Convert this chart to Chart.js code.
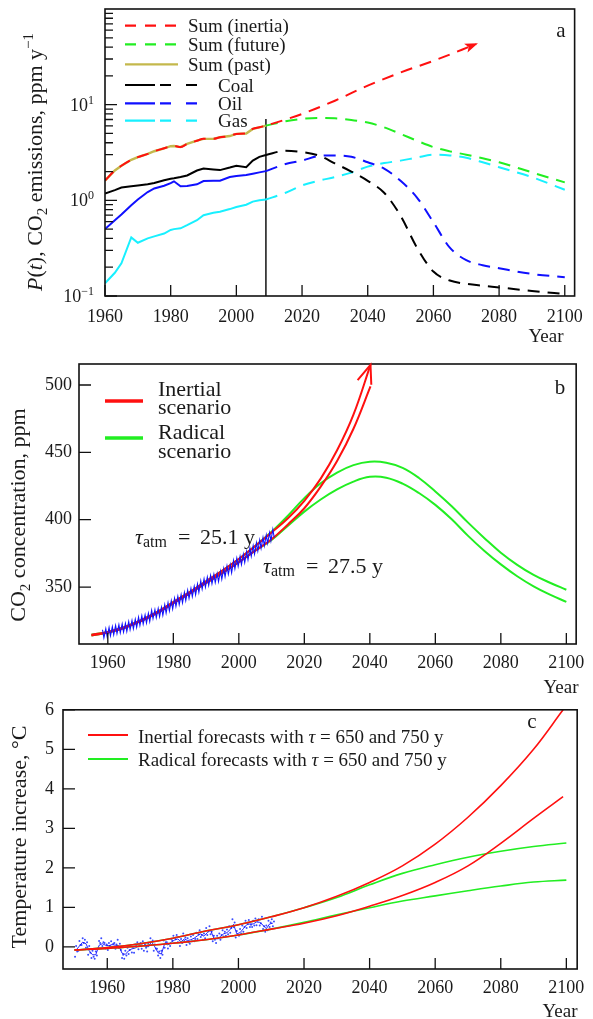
<!DOCTYPE html>
<html>
<head>
<meta charset="utf-8">
<script src="https://cdn.jsdelivr.net/npm/chart.js@4.4.1/dist/chart.umd.min.js"></script>
<style>
body { margin: 0; background: #fff; width: 593px; height: 1019px; position: relative; overflow: hidden; }
canvas { position: absolute; left: 0; }
</style>
</head>
<body>
<canvas id="graficoA" width="593" height="350" style="top:0px"></canvas>
<canvas id="graficoB" width="593" height="360" style="top:340px"></canvas>
<canvas id="graficoC" width="593" height="329" style="top:690px"></canvas>
<script>
var xTicks = [1960, 1980, 2000, 2020, 2040, 2060, 2080, 2100]

// panel a - emissions, ppm per year
var pastYears = [1960, 1963, 1965, 1968, 1970, 1973, 1975, 1978, 1980, 1981, 1983, 1985, 1988, 1990, 1993, 1995, 1998, 2000, 2003, 2005, 2007, 2009]
var sumPast = [1.61, 2.05, 2.3, 2.65, 2.83, 3.06, 3.26, 3.5, 3.68, 3.7, 3.6, 3.89, 4.2, 4.39, 4.39, 4.56, 4.7, 4.95, 5.0, 5.58, 5.8, 6.04]
var coalPast = [1.18, 1.28, 1.36, 1.4, 1.43, 1.47, 1.52, 1.62, 1.68, 1.7, 1.75, 1.82, 2.05, 2.15, 2.1, 2.07, 2.2, 2.3, 2.22, 2.6, 2.85, 2.98]
var oilPast = [0.5, 0.62, 0.71, 0.89, 1.02, 1.22, 1.33, 1.42, 1.51, 1.58, 1.4, 1.41, 1.47, 1.59, 1.6, 1.6, 1.75, 1.8, 1.84, 1.9, 1.96, 2.02]
var gasPast = [0.136, 0.175, 0.22, 0.41, 0.36, 0.4, 0.42, 0.45, 0.49, 0.5, 0.51, 0.55, 0.62, 0.7, 0.74, 0.76, 0.81, 0.85, 0.9, 0.97, 1.0, 1.02]

var futureYears = [2009, 2015, 2020, 2025, 2030, 2035, 2040, 2045, 2050, 2055, 2060, 2065, 2070, 2075, 2080, 2090, 2100]
var sumFuture = [6.04, 6.7, 7.1, 7.25, 7.2, 6.9, 6.5, 5.8, 4.95, 4.2, 3.6, 3.25, 3.0, 2.75, 2.5, 1.96, 1.54]
var coalFuture = [2.98, 3.3, 3.2, 2.95, 2.43, 2.0, 1.6, 1.2, 0.69, 0.32, 0.18, 0.145, 0.134, 0.128, 0.123, 0.113, 0.105]
var oilFuture = [2.02, 2.4, 2.6, 2.9, 2.95, 2.85, 2.5, 2.15, 1.6, 1.07, 0.59, 0.32, 0.237, 0.21, 0.195, 0.17, 0.157]
var gasFuture = [1.02, 1.2, 1.43, 1.6, 1.75, 1.95, 2.25, 2.45, 2.6, 2.8, 3.0, 2.95, 2.78, 2.5, 2.22, 1.75, 1.29]

var inertiaYears = [2009, 2020, 2030, 2040, 2050, 2060, 2073]
var sumInertia = [6.04, 8.0, 11.0, 15.8, 21.7, 28.7, 43]

var logMajor = [0.1, 1, 10]
var logExp = ['−1', '0', '1']
var logMinor = [0.2, 0.3, 0.4, 0.5, 0.6, 0.7, 0.8, 0.9, 2, 3, 4, 5, 6, 7, 8, 9, 20, 30, 40, 50, 60, 70, 80, 90]
var legendA = ['Sum (inertia)', 'Sum (future)', 'Sum (past)', 'Coal', 'Oil', 'Gas']

// panel b - CO2 concentration
var concYears = [1955, 1960, 1965, 1970, 1975, 1980, 1985, 1990, 1995, 2000, 2005, 2010, 2015, 2020, 2025, 2030, 2035, 2040, 2045, 2050, 2055, 2060, 2065, 2070, 2075, 2080, 2085, 2090, 2095, 2100]
var radicalHigh = [314.5, 316.7, 320.2, 325.2, 331.3, 338.8, 346.3, 354.3, 362.3, 370.8, 380.5, 391, 403, 416, 427, 435, 440.5, 443, 442.3, 438.5, 431, 421, 410, 397.8, 386.3, 375.5, 366.5, 359, 353.2, 348]
var radicalLow = [314, 316.2, 319.6, 324.6, 330.6, 338, 345.3, 353, 360.5, 368.5, 377, 385, 395.5, 406, 415, 422.5, 428.3, 431.8, 431.2, 426.8, 419.8, 411, 400.3, 388, 376.8, 366.8, 358, 350.5, 344.3, 339]
var inertYears = [1955, 1960, 1965, 1970, 1975, 1980, 1985, 1990, 1995, 2000, 2005, 2010, 2015, 2020, 2025, 2030, 2035, 2040.2]
var inertHigh = [314.5, 316.7, 320.2, 325.2, 331.3, 338.8, 346.3, 354.3, 362.3, 370.8, 380.5, 390.5, 401, 414, 430.5, 451.5, 478, 515]
var inertLow = [314, 316.2, 319.6, 324.6, 330.6, 338, 345.3, 353, 360.5, 368.5, 377, 385.5, 396.5, 408.5, 424.5, 443.5, 467.5, 499]

var mloFirstYear = 1958
var mloPeak = [318.3, 319.0, 319.9, 320.6, 321.5, 322.0, 322.6, 323.0, 324.4, 325.2,
  326.0, 327.6, 328.7, 329.3, 330.5, 332.7, 333.2, 334.1, 335.0, 336.8,
  338.4, 339.8, 341.7, 343.1, 344.4, 346.0, 347.6, 349.0, 350.4, 352.2,
  354.6, 356.1, 357.4, 358.6, 359.4, 360.1, 361.8, 363.8, 365.6, 366.7,
  369.7, 371.4, 372.7, 374.3, 376.4, 378.9, 380.7, 382.8, 384.9, 386.8,
  388.6, 390.4, 392.9]
var mloTrough = [312.3, 313.0, 313.8, 314.6, 315.4, 316.0, 316.5, 317.0, 318.3, 319.1,
  320.0, 321.5, 322.6, 323.3, 324.4, 326.6, 327.2, 328.0, 329.0, 330.7,
  332.3, 333.7, 335.6, 337.0, 338.3, 340.0, 341.5, 342.9, 344.3, 346.1,
  348.5, 350.0, 351.3, 352.5, 353.3, 354.0, 355.7, 357.7, 359.5, 360.6,
  363.6, 365.3, 366.6, 368.2, 370.3, 372.8, 374.6, 376.7, 378.8, 380.7,
  382.5, 384.3, 386.8]

// panel c - temperature
var modelYears = [1950, 1960, 1970, 1980, 1990, 2000, 2010, 2020, 2030, 2040, 2050, 2060, 2070, 2080, 2090, 2100]
var inertForecastYears = [1950, 1960, 1970, 1980, 1990, 2000, 2010, 2020, 2030, 2040, 2050, 2060, 2070, 2080, 2090, 2099]
var inertTempHigh = [-0.08, -0.02, 0.08, 0.22, 0.4, 0.56, 0.76, 0.99, 1.28, 1.63, 2.05, 2.6, 3.28, 4.08, 5.0, 6.0]
var inertTempLow = [-0.08, -0.04, 0.02, 0.09, 0.18, 0.3, 0.45, 0.6, 0.79, 1.03, 1.3, 1.63, 2.05, 2.62, 3.25, 3.8]
var radTempHigh = [-0.08, -0.02, 0.08, 0.22, 0.4, 0.56, 0.76, 0.99, 1.25, 1.57, 1.86, 2.08, 2.27, 2.42, 2.54, 2.63]
var radTempLow = [-0.08, -0.04, 0.02, 0.09, 0.18, 0.3, 0.45, 0.62, 0.81, 0.99, 1.16, 1.29, 1.42, 1.54, 1.64, 1.69]

var obsFirstYear = 1950
var obsTemp = [-0.08, 0.02, 0.12, 0.08, -0.1, -0.2, -0.2, 0.04, 0.08, 0.04,
  0.03, 0.06, 0.04, 0.03, -0.16, -0.19, -0.1, -0.05, -0.03, 0.02,
  0.05, 0.02, 0.0, 0.13, 0.0, -0.15, -0.18, 0.08, 0.05, 0.12,
  0.17, 0.2, 0.13, 0.2, 0.16, 0.18, 0.22, 0.28, 0.33, 0.27,
  0.36, 0.42, 0.22, 0.2, 0.26, 0.33, 0.36, 0.44, 0.57, 0.33,
  0.36, 0.46, 0.56, 0.58, 0.58, 0.63, 0.62, 0.55, 0.46, 0.58,
  0.6]
// three readings per year
var obsScatter = [-0.25, 0.02, -0.12, -0.1, 0.15, 0.05, 0.05, 0.22, 0.1, 0.18, -0.02, 0.12, -0.2, 0.02, -0.15,
  -0.28, -0.1, -0.25, -0.3, -0.12, -0.22, -0.05, 0.15, 0.1, 0.22, 0.02, 0.12, 0.1, -0.04, 0.06,
  -0.08, 0.1, 0.02, 0.14, 0.0, 0.08, 0.1, -0.05, 0.06, 0.18, -0.02, 0.08, -0.08, -0.28, -0.2,
  -0.3, -0.1, -0.22, -0.02, -0.18, -0.08, 0.05, -0.14, 0.0, -0.15, 0.06, 0.02, 0.12, -0.06, 0.08,
  0.1, -0.05, 0.14, -0.1, 0.06, -0.02, -0.12, 0.08, 0.04, 0.22, 0.05, 0.16, -0.1, 0.06, -0.04,
  -0.05, -0.22, -0.12, -0.28, -0.1, -0.2, 0.16, -0.02, 0.12, 0.12, -0.04, 0.08, 0.02, 0.2, 0.16,
  0.28, 0.1, 0.2, 0.3, 0.12, 0.25, 0.02, 0.2, 0.1, 0.34, 0.15, 0.24, 0.05, 0.22, 0.12,
  0.08, 0.26, 0.14, 0.3, 0.14, 0.2, 0.36, 0.2, 0.32, 0.42, 0.25, 0.3, 0.18, 0.34, 0.22,
  0.48, 0.3, 0.4, 0.52, 0.32, 0.38, 0.14, 0.28, 0.18, 0.1, 0.28, 0.22, 0.34, 0.18, 0.3,
  0.42, 0.26, 0.38, 0.28, 0.44, 0.32, 0.52, 0.36, 0.48, 0.7, 0.5, 0.62, 0.24, 0.4, 0.3,
  0.28, 0.45, 0.34, 0.54, 0.38, 0.5, 0.66, 0.48, 0.6, 0.68, 0.5, 0.56, 0.5, 0.66, 0.54,
  0.72, 0.55, 0.66, 0.7, 0.54, 0.6, 0.76, 0.45, 0.52, 0.38, 0.54, 0.42, 0.66, 0.5, 0.62,
  0.7, 0.52, 0.64]
var tempTicks = [0, 1, 2, 3, 4, 5, 6]
var concTicks = [350, 400, 450, 500]

Chart.defaults.font.family = '"Liberation Serif", "Times New Roman", serif'
Chart.defaults.font.size = 18
Chart.defaults.color = '#1a1a1a'
Chart.defaults.animation = false
Chart.defaults.elements.point.radius = 0
Chart.defaults.plugins.legend.display = false
Chart.defaults.plugins.tooltip.enabled = false

function serif(size, italic) {
	return (italic ? 'italic ' : '') + size + 'px "Liberation Serif", serif'
}

function pts(xs, ys) {
	return xs.map(function (x, i) { return { x: x, y: ys[i] } })
}

// smooth: 'mono' = monotone cubic, 'bez' = bezier tension, otherwise straight
function line(data, color, width, dash, order, smooth) {
	return {
		data: data,
		borderColor: color,
		borderWidth: width,
		borderDash: dash || [],
		fill: false,
		order: order,
		tension: smooth === 'bez' ? 0.4 : 0,
		cubicInterpolationMode: smooth === 'mono' ? 'monotone' : 'default',
	}
}

// text made of pieces: [text, font, dy]
function richText(ctx, x, y, parts, rot, align) {
	ctx.save()
	ctx.translate(x, y)
	if (rot) ctx.rotate(rot)
	var w = 0
	parts.forEach(function (p) { ctx.font = p[1]; w += ctx.measureText(p[0]).width })
	var cx = 0
	if (align === 'center') cx = -w / 2
	if (align === 'right') cx = -w
	ctx.textAlign = 'left'
	ctx.textBaseline = 'alphabetic'
	parts.forEach(function (p) {
		ctx.font = p[1]
		ctx.fillText(p[0], cx, p[2] || 0)
		cx += ctx.measureText(p[0]).width
	})
	ctx.restore()
}

function xScale(min, max, height, pad) {
	return {
		type: 'linear',
		min: min,
		max: max,
		grid: { display: false, drawTicks: false },
		border: { display: false },
		ticks: { padding: pad, maxRotation: 0, autoSkip: false, callback: function (v) { return String(v) } },
		afterBuildTicks: function (s) { s.ticks = xTicks.map(function (v) { return { value: v } }) },
		afterFit: function (s) { s.height = height },
	}
}

function makeDeco(yMajor, yMinor, extra) {
	return {
		id: 'deco',
		afterDraw: function (chart) {
			var ctx = chart.ctx, a = chart.chartArea
			var sx = chart.scales.x, sy = chart.scales.y
			ctx.save()
			ctx.strokeStyle = '#111'
			ctx.lineWidth = 1.6
			ctx.strokeRect(a.left, a.top, a.right - a.left, a.bottom - a.top)
			ctx.lineWidth = 1.3
			ctx.beginPath()
			xTicks.forEach(function (v) {
				var px = sx.getPixelForValue(v)
				ctx.moveTo(px, a.bottom)
				ctx.lineTo(px, a.bottom - 11)
			})
			yMajor.forEach(function (v) {
				var py = sy.getPixelForValue(v)
				ctx.moveTo(a.left, py)
				ctx.lineTo(a.left + 12, py)
			})
			yMinor.forEach(function (v) {
				var py = sy.getPixelForValue(v)
				ctx.moveTo(a.left, py)
				ctx.lineTo(a.left + 8, py)
			})
			ctx.stroke()
			ctx.fillStyle = '#1a1a1a'
			extra(chart, ctx)
			ctx.restore()
		}
	}
}

var red = '#ff1010', green = '#22ee22', olive = '#c4b84c', blue = '#1010ff', cyan = '#18f0ff'

// ---------- panel a ----------
var inertiaData = pts(pastYears, sumPast).concat(pts(inertiaYears, sumInertia).slice(1))

var decoA = makeDeco(logMajor, logMinor, function (chart, ctx) {
	var sy = chart.scales.y
	logMajor.forEach(function (v, i) {
		var py = sy.getPixelForValue(v)
		richText(ctx, 94, py + 6, [['10', serif(18)], [logExp[i], serif(12), -7]], 0, 'right')
	})
	richText(ctx, 41.5, 162, [['P', serif(22, true)], ['(', serif(22)], ['t', serif(22, true)], ['), CO', serif(22)],
		['2', serif(15), 5], [' emissions, ppm y', serif(22)], ['−1', serif(15), -9]], -Math.PI / 2, 'center')
	ctx.font = serif(19)
	ctx.textAlign = 'center'
	ctx.fillText('Year', 546, 342)
	ctx.font = serif(21)
	ctx.fillText('a', 561, 37)

	// arrow at the end of the inertia sum
	var p = chart.getDatasetMeta(0).data
	var t = p[p.length - 1], s = p[p.length - 2]
	var ang = Math.atan2(t.y - s.y, t.x - s.x)
	ctx.fillStyle = red
	ctx.beginPath()
	ctx.moveTo(t.x + 2 * Math.cos(ang), t.y + 2 * Math.sin(ang))
	ctx.lineTo(t.x - 12 * Math.cos(ang - 0.4), t.y - 12 * Math.sin(ang - 0.4))
	ctx.lineTo(t.x - 8 * Math.cos(ang), t.y - 8 * Math.sin(ang))
	ctx.lineTo(t.x - 12 * Math.cos(ang + 0.4), t.y - 12 * Math.sin(ang + 0.4))
	ctx.closePath()
	ctx.fill()

	// legend
	var rows = [25.7, 44.3, 64.3, 85, 103.3, 120.7]
	var colors = [red, green, olive, '#000', blue, cyan]
	ctx.lineWidth = 2.2
	rows.forEach(function (y, i) {
		ctx.strokeStyle = colors[i]
		ctx.beginPath()
		if (i < 3) {
			ctx.setLineDash(i === 2 ? [] : [11, 9])
			ctx.moveTo(125, y)
			ctx.lineTo(178, y)
		} else {
			ctx.setLineDash([])
			ctx.moveTo(125, y); ctx.lineTo(155, y)
			ctx.moveTo(160, y); ctx.lineTo(171, y)
			ctx.moveTo(186, y); ctx.lineTo(197, y)
		}
		ctx.stroke()
		ctx.setLineDash([])
		ctx.fillStyle = '#1a1a1a'
		ctx.font = serif(19)
		ctx.textAlign = 'left'
		ctx.fillText(legendA[i], i < 3 ? 188 : 218, y + 6.5)
	})
})

new Chart(document.getElementById('graficoA').getContext('2d'), {
	type: 'line',
	data: {
		datasets: [
			line(inertiaData, red, 2, [12, 8], 0, 'mono'),
			line(pts(futureYears, sumFuture), green, 2, [12, 8], 1, 'mono'),
			line(pts(futureYears, coalFuture), '#000', 2, [12, 8], 2, 'mono'),
			line(pts(futureYears, oilFuture), blue, 2, [12, 8], 2, 'mono'),
			line(pts(futureYears, gasFuture), cyan, 2, [12, 8], 2, 'mono'),
			line(pts(pastYears, coalPast), '#000', 2, [], 3),
			line(pts(pastYears, oilPast), blue, 2, [], 3),
			line(pts(pastYears, gasPast), cyan, 2, [], 3),
			line(pts(pastYears, sumPast), olive, 2.4, [], 4),
			line([{ x: 2009, y: 0.1 }, { x: 2009, y: 7.1 }], '#000', 1.4, [], 5),
		]
	},
	options: {
		responsive: false,
		layout: { padding: { left: 0, top: 9, right: 11, bottom: 0 } },
		scales: {
			x: xScale(1960, 2103, 54, 10),
			y: {
				type: 'logarithmic',
				min: 0.1,
				max: 100,
				grid: { display: false, drawTicks: false },
				border: { display: false },
				ticks: { display: false },
				afterFit: function (s) { s.width = 105 },
			},
		},
	},
	plugins: [decoA],
})

// ---------- panel b ----------
var mloData = []
mloPeak.forEach(function (v, i) {
	mloData.push({ x: mloFirstYear + i + 0.38, y: v })
	mloData.push({ x: mloFirstYear + i + 0.8, y: mloTrough[i] })
})

var decoB = makeDeco(concTicks, [], function (chart, ctx) {
	var off = 340
	richText(ctx, 25, 515 - off, [['CO', serif(22)], ['2', serif(15), 5], [' concentration, ppm', serif(22)]], -Math.PI / 2, 'center')
	ctx.font = serif(19)
	ctx.textAlign = 'center'
	ctx.fillText('Year', 561, 693 - off)
	ctx.font = serif(21)
	ctx.fillText('b', 560, 394 - off)

	// tau annotations
	var notes = [[135, 544, '25.1 y'], [263, 573, '27.5 y']]
	notes.forEach(function (n) {
		ctx.textAlign = 'left'
		ctx.font = serif(22, true)
		ctx.fillText('τ', n[0], n[1] - off)
		ctx.font = serif(16)
		ctx.fillText('atm', n[0] + 8, n[1] + 3 - off)
		ctx.font = serif(22)
		ctx.fillText('=', n[0] + 43, n[1] - off)
		ctx.fillText(n[2], n[0] + 65, n[1] - off)
	})

	// legend
	ctx.lineWidth = 3.5
	ctx.strokeStyle = red
	ctx.beginPath(); ctx.moveTo(105, 401 - off); ctx.lineTo(143, 401 - off); ctx.stroke()
	ctx.strokeStyle = green
	ctx.beginPath(); ctx.moveTo(105, 438 - off); ctx.lineTo(143, 438 - off); ctx.stroke()
	ctx.font = serif(22)
	ctx.fillText('Inertial', 158, 396 - off)
	ctx.fillText('scenario', 158, 414 - off)
	ctx.fillText('Radical', 158, 439 - off)
	ctx.fillText('scenario', 158, 458 - off)

	// open arrow on the inertial curves
	var p = chart.getDatasetMeta(1).data
	var t = p[p.length - 1], s = p[p.length - 2]
	var ang = Math.atan2(t.y - s.y, t.x - s.x)
	ctx.strokeStyle = red
	ctx.lineWidth = 2
	ctx.beginPath()
	ctx.moveTo(t.x - 20 * Math.cos(ang - 0.37), t.y - 20 * Math.sin(ang - 0.37))
	ctx.lineTo(t.x, t.y)
	ctx.lineTo(t.x - 20 * Math.cos(ang + 0.37), t.y - 20 * Math.sin(ang + 0.37))
	ctx.stroke()
})

new Chart(document.getElementById('graficoB').getContext('2d'), {
	type: 'line',
	data: {
		datasets: [
			line(mloData, blue, 1.1, [], 0),
			line(pts(inertYears, inertHigh), red, 2, [], 1, 'bez'),
			line(pts(inertYears, inertLow), red, 2, [], 1, 'bez'),
			line(pts(concYears, radicalHigh), green, 2, [], 2, 'bez'),
			line(pts(concYears, radicalLow), green, 2, [], 2, 'bez'),
		]
	},
	options: {
		responsive: false,
		layout: { padding: { left: 0, top: 24, right: 8, bottom: 0 } },
		scales: {
			x: xScale(1951.2, 2103, 56, 8.5),
			y: {
				type: 'linear',
				min: 307.7,
				max: 515.6,
				grid: { display: false, drawTicks: false },
				border: { display: false },
				ticks: { padding: 7 },
				afterBuildTicks: function (s) { s.ticks = concTicks.map(function (v) { return { value: v } }) },
				afterFit: function (s) { s.width = 79 },
			},
		},
	},
	plugins: [decoB],
})

// ---------- panel c ----------
var scatterData = obsScatter.map(function (v, i) {
	return { x: obsFirstYear + Math.floor(i / 3) + (i % 3) / 3 + 0.17, y: v }
})
var obsData = obsTemp.map(function (v, i) { return { x: obsFirstYear + i + 0.5, y: v } })

var decoC = makeDeco(tempTicks, [], function (chart, ctx) {
	var off = 690
	richText(ctx, 26, 837 - off, [['Temperature increase, °C', serif(22)]], -Math.PI / 2, 'center')
	ctx.font = serif(19)
	ctx.textAlign = 'center'
	ctx.fillText('Year', 560, 1017 - off)
	ctx.font = serif(21)
	ctx.fillText('c', 532, 728 - off)

	ctx.lineWidth = 2
	ctx.strokeStyle = red
	ctx.beginPath(); ctx.moveTo(88, 735 - off); ctx.lineTo(128, 735 - off); ctx.stroke()
	ctx.strokeStyle = green
	ctx.beginPath(); ctx.moveTo(88, 759 - off); ctx.lineTo(128, 759 - off); ctx.stroke()
	richText(ctx, 138, 742.5 - off, [['Inertial forecasts with ', serif(19)], ['τ', serif(19, true)], [' = 650 and 750 y', serif(19)]], 0, 'left')
	richText(ctx, 138, 766 - off, [['Radical forecasts with ', serif(19)], ['τ', serif(19, true)], [' = 650 and 750 y', serif(19)]], 0, 'left')
})

new Chart(document.getElementById('graficoC').getContext('2d'), {
	type: 'line',
	data: {
		datasets: [
			line(pts(inertForecastYears, inertTempHigh), red, 1.6, [], 0, 'bez'),
			line(pts(inertForecastYears, inertTempLow), red, 1.6, [], 0, 'bez'),
			line(pts(modelYears, radTempHigh), green, 1.6, [], 1, 'bez'),
			line(pts(modelYears, radTempLow), green, 1.6, [], 1, 'bez'),
			line(obsData, blue, 0.9, [], 2),
			{
				data: scatterData,
				showLine: false,
				pointRadius: 1,
				pointBorderWidth: 0,
				pointBackgroundColor: '#3a4cff',
				order: 3,
			},
		]
	},
	options: {
		responsive: false,
		layout: { padding: { left: 0, top: 16, right: 7, bottom: 0 } },
		scales: {
			x: xScale(1946.5, 2103.3, 50, 8.5),
			y: {
				type: 'linear',
				min: -0.56,
				max: 6,
				grid: { display: false, drawTicks: false },
				border: { display: false },
				ticks: { padding: 9 },
				afterBuildTicks: function (s) { s.ticks = tempTicks.map(function (v) { return { value: v } }) },
				afterFit: function (s) { s.width = 63 },
			},
		},
	},
	plugins: [decoC],
})
</script>
</body>
</html>
